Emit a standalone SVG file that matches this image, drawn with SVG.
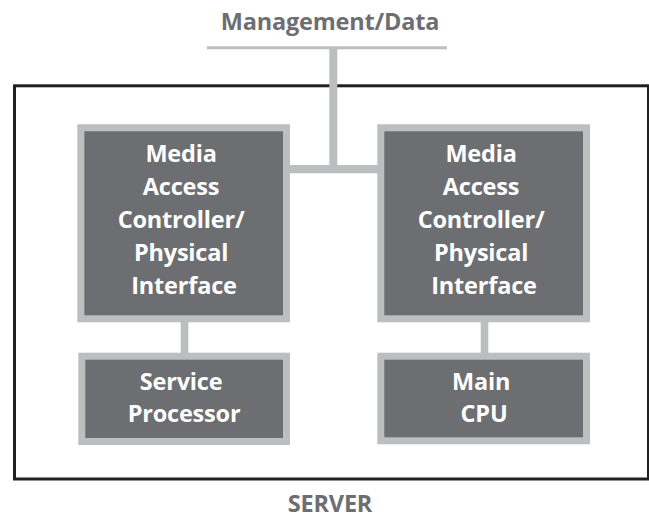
<svg xmlns="http://www.w3.org/2000/svg" width="649" height="518" viewBox="0 0 649 518">
  <style>
    .frame { fill: none; stroke: #231f20; stroke-width: 3; }
    .box { fill: #6d6e71; stroke: #bcbec0; stroke-width: 7; }
    .link { fill: #bcbec0; }
    .lbl { font-family: "Open Sans", "Noto Sans", "DejaVu Sans", sans-serif; font-weight: 700; font-size: 23.5px; letter-spacing: -0.2px; text-anchor: middle; }
    .in { fill: #ffffff; }
    .out { fill: #6d6e71; }
  </style>
  <rect width="649" height="518" fill="#ffffff"/>

  <!-- server enclosure -->
  <g id="server">
    <rect class="frame" x="14.5" y="85.8" width="634" height="393.2"/>
    <text class="lbl out" x="330" y="512" font-size="21">SERVER</text>
  </g>

  <!-- connectors -->
  <g id="connectors">
    <rect class="link" x="207" y="46.3" width="240" height="3"/>
    <rect class="link" x="329.3" y="47" width="8" height="126"/>
    <rect class="link" x="290" y="165" width="88" height="8.3"/>
    <rect class="link" x="180.7" y="322" width="7.6" height="31"/>
    <rect class="link" x="480.7" y="322" width="7.6" height="31"/>
  </g>

  <g id="mgmt">
    <text class="lbl out" x="330" y="30" font-size="24" letter-spacing="-0.5">Management/Data</text>
  </g>

  <g id="mac-left">
    <rect class="box" x="80.8" y="127.8" width="205.7" height="191"/>
    <text class="lbl in">
      <tspan x="184" y="162">Media</tspan>
      <tspan x="184" y="195">Access</tspan>
      <tspan x="184" y="227.5">Controller/</tspan>
      <tspan x="184" y="260.5">Physical</tspan>
      <tspan x="184" y="293.5">Interface</tspan>
    </text>
  </g>

  <g id="mac-right">
    <rect class="box" x="380.8" y="127.8" width="205.7" height="191"/>
    <text class="lbl in">
      <tspan x="484" y="162">Media</tspan>
      <tspan x="484" y="195">Access</tspan>
      <tspan x="484" y="227.5">Controller/</tspan>
      <tspan x="484" y="260.5">Physical</tspan>
      <tspan x="484" y="293.5">Interface</tspan>
    </text>
  </g>

  <g id="service-processor">
    <rect class="box" x="81.8" y="356.2" width="204.7" height="85.3"/>
    <text class="lbl in">
      <tspan x="184" y="390">Service</tspan>
      <tspan x="184" y="422">Processor</tspan>
    </text>
  </g>

  <g id="main-cpu">
    <rect class="box" x="380.8" y="356.2" width="205.7" height="84.6"/>
    <text class="lbl in">
      <tspan x="484" y="390">Main</tspan>
      <tspan x="484" y="422">CPU</tspan>
    </text>
  </g>
</svg>
